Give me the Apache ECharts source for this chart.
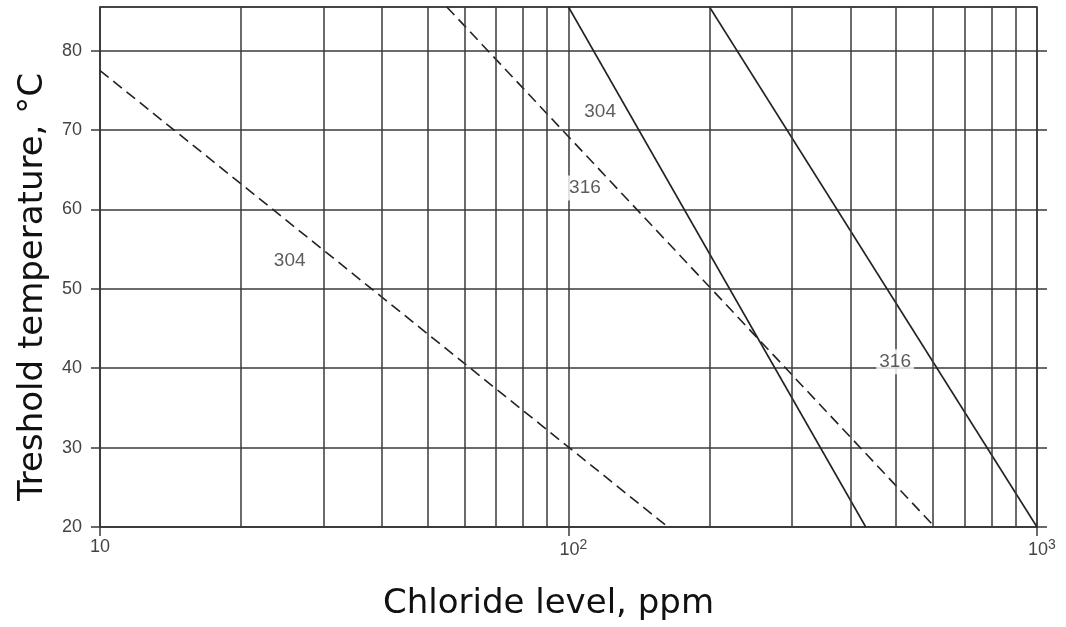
<!DOCTYPE html>
<html>
<head>
<meta charset="utf-8">
<script src="https://cdn.jsdelivr.net/npm/echarts@6/dist/echarts.min.js"></script>
<style>html,body{margin:0;padding:0;background:#fff;}#c{width:1066px;height:627px;}</style>
</head>
<body>
<div id="c"></div>
<script>
// ---- data ----
const xTickValues = [10, 100, 1000];
const xTickLabels = {10: '10', 100: '{b|10}{s|2}', 1000: '{b|10}{s|3}'};
const yTickLabels = [20, 30, 40, 50, 60, 70, 80];
const minorGridX = [20, 30, 40, 50, 60, 70, 80, 90, 200, 300, 400, 500, 600, 700, 800, 900];
const dashed304 = [[10, 77.5], [163, 20]];
const dashed316 = [[55, 85.5], [605, 20]];
const solid304 = [[100, 85.5], [431, 20]];
const solid316 = [[200, 85.5], [1000, 20]];
const lineLabels = [
  {name: '304', value: [25.4, 53.5]},
  {name: '316', value: [108.4, 62.7]},
  {name: '304', value: [116.8, 72.3]},
  {name: '316', value: [498, 40.8]}
];
const yMin = 20, yMax = 85.5;

const gridColor = '#3a3a3a';
const lineColor = '#222';
const tickFont = 'Liberation Sans, Arial';

const chart = echarts.init(document.getElementById('c'));
chart.setOption({
  backgroundColor: '#fff',
  animation: false,
  grid: {left: 100, right: 29, top: 7, bottom: 100, show: true, borderColor: gridColor, borderWidth: 1.5, backgroundColor: 'transparent'},
  xAxis: {
    type: 'log', logBase: 10, min: 10, max: 1000,
    axisLine: {show: true, lineStyle: {color: gridColor, width: 1.5}},
    axisTick: {show: true, inside: false, length: 9, lineStyle: {color: gridColor, width: 1.5}},
    splitLine: {show: true, lineStyle: {color: gridColor, width: 1.5}},
    axisLabel: {
      margin: 11, color: '#444', fontFamily: tickFont, fontSize: 18,
      formatter: v => xTickLabels[Math.round(v)] || '',
      rich: {
        b: {fontSize: 18, color: '#444', fontFamily: tickFont, padding: [0, 0, 0, 10]},
        s: {fontSize: 14, color: '#444', fontFamily: tickFont, padding: [0, 0, 10, 0]}
      }
    },
    name: 'Chloride level, ppm', nameLocation: 'middle', nameGap: 60,
    nameTextStyle: {fontFamily: 'DejaVu Sans', fontSize: 34, color: '#111', padding: [0, 40, 0, 0]}
  },
  yAxis: [{
    type: 'value', min: yMin, max: yMax, interval: 10,
    axisLine: {show: true, lineStyle: {color: gridColor, width: 1.5}},
    axisTick: {show: true, inside: false, length: 9, lineStyle: {color: gridColor, width: 1.5}},
    splitLine: {show: true, lineStyle: {color: gridColor, width: 1.5}},
    axisLabel: {
      margin: 18, color: '#444', fontFamily: tickFont, fontSize: 18,
      formatter: v => (yTickLabels.indexOf(v) >= 0 ? String(v) : ''),
      showMaxLabel: false
    },
    name: 'Treshold temperature, °C', nameLocation: 'middle', nameGap: 50,
    nameTextStyle: {fontFamily: 'DejaVu Sans', fontSize: 34, color: '#111', padding: [0, 40, 0, 0]}
  }, {
    type: 'value', min: yMin, max: yMax, interval: 10, position: 'right',
    axisLine: {show: false},
    axisTick: {show: true, inside: false, length: 10, lineStyle: {color: gridColor, width: 1.5},
      customValues: yTickLabels},
    splitLine: {show: false},
    axisLabel: {show: false}
  }],
  series: [
    {
      type: 'line', data: dashed304, showSymbol: false, symbol: 'none',
      lineStyle: {color: lineColor, width: 1.6, type: [11, 6]},
      markLine: {
        silent: true, symbol: 'none', label: {show: false},
        lineStyle: {color: gridColor, width: 1.5, type: 'solid'},
        data: minorGridX.map(v => ({xAxis: v}))
      }
    },
    {type: 'line', data: dashed316, showSymbol: false, symbol: 'none', lineStyle: {color: lineColor, width: 1.6, type: [11, 6]}},
    {type: 'line', data: solid304, showSymbol: false, symbol: 'none', lineStyle: {color: lineColor, width: 1.6}},
    {type: 'line', data: solid316, showSymbol: false, symbol: 'none', lineStyle: {color: lineColor, width: 1.6}},
    {
      type: 'scatter', data: lineLabels, symbolSize: 1, itemStyle: {color: 'rgba(0,0,0,0)'}, z: 10,
      label: {show: true, position: 'inside', formatter: p => p.name, color: '#333',
        fontFamily: tickFont, fontSize: 19, backgroundColor: '#fff', padding: [3, 3]}
    }
  ]
});
</script>
</body>
</html>
